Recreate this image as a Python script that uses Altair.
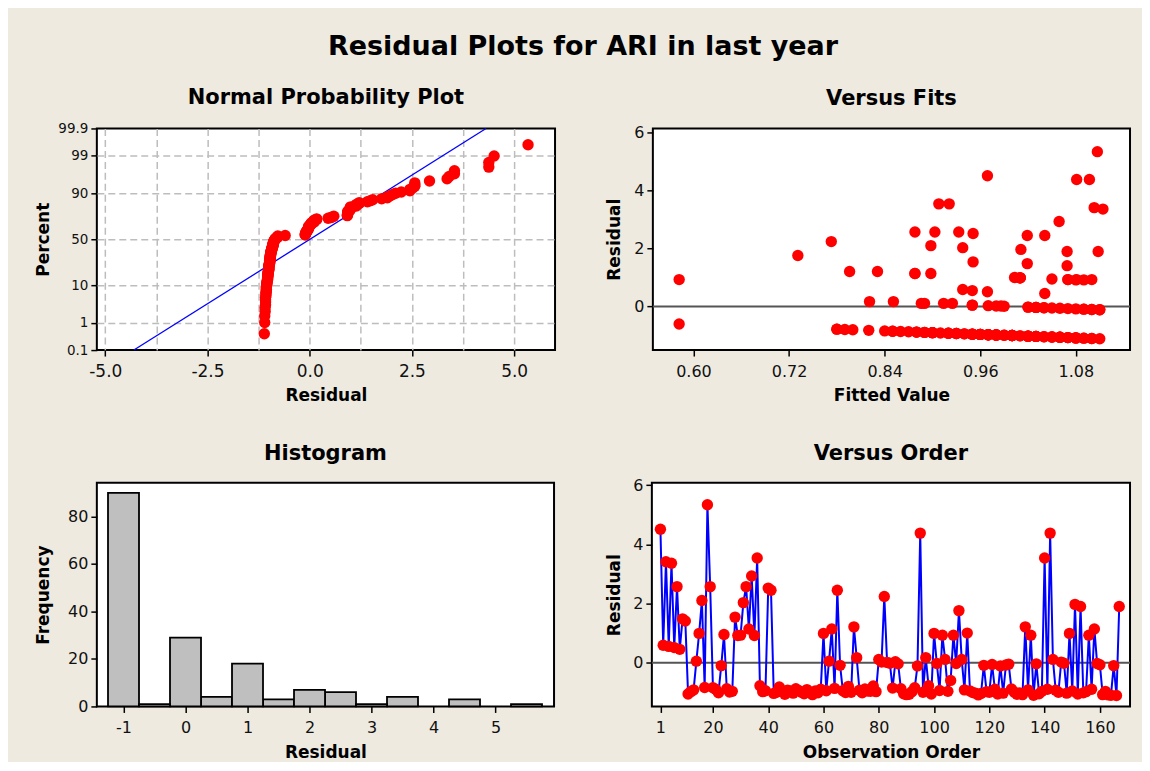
import altair as alt
import pandas as pd
import numpy as np
from statistics import NormalDist

# ---------------- data ----------------
residuals = [
    4.51, 0.59, 3.41, 0.55, 3.36, 0.51, 2.57, 0.45, 1.48, 1.41,
    -1.06, -0.98, -0.92, 0.05, 0.99, 2.10, -0.84, 5.34, 2.57, -0.85,
    -0.90, -1.02, -0.10, 0.95, -0.88, -0.99, -0.97, 1.54, 0.92, 0.93,
    2.03, 2.57, 1.14, 2.93, 0.92, 3.54, -0.78, -0.98, -0.95, 2.52,
    2.45, -1.04, -1.00, -0.82, -0.95, -1.07, -0.93, -0.96, -1.03, -0.88,
    -0.94, -1.00, -1.05, -0.91, -0.99, -1.08, -0.96, -1.02, -0.90, 0.99,
    -0.95, 0.05, 1.14, -0.87, 2.45, -0.09, -0.95, -1.01, -0.80, -1.00,
    1.21, 0.17, -0.93, -1.02, -0.89, -0.96, -0.97, -0.79, -0.98, 0.11,
    0.02, 2.24, 0.01, -0.02, -0.86, 0.03, -0.04, -0.88, -1.05, -1.08,
    -1.07, -0.98, -0.85, -0.11, 4.38, -1.00, 0.17, -0.78, -1.06, 0.99,
    -0.03, -0.94, 0.93, 0.11, -0.97, -0.60, 0.93, -0.03, 1.76, 0.11,
    -0.92, 1.00, -0.96, -1.01, -1.03, -1.09, -1.04, -0.09, -0.98, -1.00,
    -0.06, -0.90, -1.06, -0.11, -1.03, -0.08, -0.05, -0.89, -1.00, -1.07,
    -1.02, -1.08, 1.21, -0.92, 0.93, -1.10, -0.04, -1.05, -0.97, 3.54,
    -0.90, 4.38, 0.11, -0.93, -1.00, 0.02, -0.02, -1.03, 0.99, -0.96,
    1.97, -1.06, 1.90, -1.02, -0.98, 0.93, -0.90, 1.14, -0.03, -0.07,
    -1.08, -0.97, -1.09, -1.10, -0.10, -1.11, 1.90,
]
fitted = [
    0.969, 0.938, 1.103, 0.950, 1.114, 0.969, 0.878, 1.041, 1.019, 1.069,
    1.060, 0.980, 0.920, 0.950, 1.010, 0.898, 0.840, 1.107, 0.903, 0.850,
    0.900, 1.020, 1.100, 1.050, 0.880, 0.990, 0.970, 0.951, 1.080, 1.070,
    0.938, 0.933, 0.878, 1.059, 1.090, 0.908, 0.780, 0.980, 0.950, 0.951,
    1.019, 1.040, 1.000, 0.820, 0.950, 1.070, 0.930, 0.960, 1.030, 0.880,
    0.940, 1.000, 1.050, 0.910, 0.990, 1.080, 0.960, 1.020, 0.900, 1.010,
    0.950, 0.950, 0.898, 0.870, 1.041, 1.090, 0.950, 1.010, 0.800, 1.000,
    0.796, 0.821, 0.930, 1.020, 0.890, 0.960, 0.970, 0.790, 0.980, 0.886,
    0.980, 0.773, 0.990, 1.020, 0.860, 0.970, 1.040, 0.880, 1.050, 1.080,
    1.070, 0.980, 0.850, 1.110, 1.081, 1.000, 0.851, 0.780, 1.060, 1.010,
    1.030, 0.940, 1.070, 0.914, 0.970, 0.582, 0.582, 1.030, 0.731, 0.925,
    0.920, 1.003, 0.960, 1.010, 1.030, 1.090, 1.040, 1.090, 0.980, 1.000,
    1.060, 0.900, 1.060, 1.110, 1.030, 1.080, 1.050, 0.890, 1.000, 1.070,
    1.020, 1.080, 0.831, 0.920, 1.100, 1.100, 1.040, 1.050, 0.970, 0.921,
    0.900, 1.097, 0.890, 0.930, 1.000, 0.986, 1.020, 1.030, 1.010, 0.960,
    1.011, 1.060, 1.069, 1.020, 0.980, 1.081, 0.900, 0.878, 1.030, 1.070,
    1.080, 0.970, 1.090, 1.100, 1.100, 1.110, 1.108,
]
order = list(range(1, len(residuals) + 1))

pct_ticks = [0.1, 1, 10, 50, 90, 99, 99.9]
npp_x_ticks = [-5.0, -3.75, -2.5, -1.25, 0.0, 1.25, 2.5, 3.75, 5.0]
fit_x_ticks = [0.60, 0.72, 0.84, 0.96, 1.08]
resid_y_ticks = [0, 2, 4, 6]
hist_x_ticks = [-1, 0, 1, 2, 3, 4, 5]
hist_y_ticks = [0, 20, 40, 60, 80]
order_x_ticks = [1, 20, 40, 60, 80, 100, 120, 140, 160]

df = pd.DataFrame({"order": order, "residual": residuals, "fitted": fitted})
ref_df = pd.DataFrame({"ref": [0]})
line_df = pd.DataFrame({"pct": [pct_ticks[0], pct_ticks[-1]]})

mu = float(np.mean(residuals))
sd = float(np.std(residuals, ddof=1))
z_ticks = [NormalDist().inv_cdf(p / 100.0) for p in pct_ticks]

# ---------------- styling ----------------
FONT = "DejaVu Sans"
BG = "#EEEAE0"
RED = "#FF0000"
BLUE = "#0000FF"
PT = 130


def axis(**kw):
    base = dict(domain=False, ticks=True, tickSize=6, tickWidth=1.5, tickColor="black",
                labelFont=FONT, labelFontSize=16, labelColor="#111111",
                labelOverlap=False, labelFlush=False, labelPadding=3,
                titleFont=FONT, titleFontSize=17, titleFontWeight="bold",
                titleColor="black", grid=False)
    base.update(kw)
    return alt.Axis(**base)


def xaxis(**kw):
    return axis(labelPadding=7, titlePadding=9, **kw)


def ptitle(t, off):
    return alt.TitleParams(t, font=FONT, fontSize=21, fontWeight="bold",
                           color="black", offset=off, anchor="middle")


MINUS = "\u2212"
GRID = dict(grid=True, gridColor="#BDBDBD", gridDash=[7, 4], gridWidth=1.5)

# ---------------- Normal probability plot ----------------
npp_x_axis = xaxis(values=npp_x_ticks, title="Residual", labelFontSize=17,
                   labelExpr=f"abs(datum.value % 2.5) < 1e-9 ? replace(format(datum.value, '.1f'), '{MINUS}', '-') : ''",
                   tickOpacity={"condition": {"test": "abs(datum.value % 2.5) > 1e-9", "value": 0}, "value": 1},
                   **GRID)
npp_y_axis = axis(values=z_ticks, title="Percent", titlePadding=16,
                  labelFontSize=13.5, minExtent=28, maxExtent=28,
                  labelExpr="cumulativeNormal(datum.value) < 0.005 || cumulativeNormal(datum.value) > 0.995 ? format(cumulativeNormal(datum.value) * 100, '.1f') : format(cumulativeNormal(datum.value) * 100, '.0f')",
                  gridOpacity={"condition": {"test": "abs(datum.value) > 3", "value": 0}, "value": 1},
                  **GRID)
npp_x_scale = alt.Scale(domain=[-5.206, 6.0], nice=False, zero=False)
npp_y_scale = alt.Scale(domain=[z_ticks[0], z_ticks[-1]], nice=False, zero=False)

npp_line = alt.Chart(line_df).transform_calculate(
    z="quantileNormal(datum.pct / 100)",
    xline=f"{mu} + {sd} * datum.z",
).mark_line(color=BLUE, strokeWidth=1.3).encode(
    x=alt.X("xline:Q", scale=npp_x_scale, axis=npp_x_axis),
    y=alt.Y("z:Q", scale=npp_y_scale, axis=npp_y_axis),
)

npp_pts = alt.Chart(df).transform_window(
    rank="row_number()", sort=[alt.SortField("residual", order="ascending")]
).transform_joinaggregate(
    n="count()"
).transform_calculate(
    p="(datum.rank - 0.3) / (datum.n + 0.4)"
).transform_calculate(
    z="quantileNormal(datum.p)"
).mark_circle(color=RED, size=PT, opacity=1).encode(
    x=alt.X("residual:Q", scale=npp_x_scale, axis=npp_x_axis),
    y=alt.Y("z:Q", scale=npp_y_scale, axis=npp_y_axis),
)

npp = alt.layer(npp_line, npp_pts).properties(
    width=459, height=222, title=ptitle("Normal Probability Plot", 13))

# ---------------- Versus fits ----------------
fit_x_axis = xaxis(values=fit_x_ticks, format=".2f", title="Fitted Value")
fit_y_axis = axis(values=resid_y_ticks, title="Residual", titlePadding=19,
                  minExtent=10, maxExtent=10)
fit_x_scale = alt.Scale(domain=[0.549, 1.148], nice=False, zero=False)
fit_y_scale = alt.Scale(domain=[-1.5, 6.14], nice=False, zero=False)

fit_rule = alt.Chart(ref_df).mark_rule(color="#555555", strokeWidth=2).encode(
    y=alt.Y("ref:Q", scale=fit_y_scale, axis=fit_y_axis))
fit_pts = alt.Chart(df).mark_circle(color=RED, size=PT, opacity=1).encode(
    x=alt.X("fitted:Q", scale=fit_x_scale, axis=fit_x_axis),
    y=alt.Y("residual:Q", scale=fit_y_scale, axis=fit_y_axis),
)
fits = alt.layer(fit_rule, fit_pts).properties(
    width=478, height=222, title=ptitle("Versus Fits", 16))

# ---------------- Histogram ----------------
hist_x_axis = xaxis(values=hist_x_ticks, title="Residual",
                    labelExpr=f"replace(datum.label, '{MINUS}', '-')")
hist_y_axis = axis(values=hist_y_ticks, title="Frequency", titlePadding=16,
                   minExtent=28, maxExtent=28)
hist = alt.Chart(df).transform_bin(
    as_=["bin_start", "bin_end"], field="residual",
    bin=alt.Bin(extent=[-1.25, 5.75], step=0.5, nice=False),
).transform_aggregate(
    count="count()", groupby=["bin_start", "bin_end"]
).mark_bar(fill="#BFBFBF", stroke="black", strokeWidth=1.8).encode(
    x=alt.X("bin_start:Q", scale=alt.Scale(domain=[-1.43, 5.944], nice=False, zero=False),
            axis=hist_x_axis),
    x2="bin_end:Q",
    y=alt.Y("count:Q", scale=alt.Scale(domain=[0, 94.2], nice=False), axis=hist_y_axis),
    y2=alt.datum(0),
).properties(width=458, height=224, title=ptitle("Histogram", 19))

# ---------------- Versus order ----------------
ord_x_axis = xaxis(values=order_x_ticks, title="Observation Order")
ord_y_axis = axis(values=resid_y_ticks, title="Residual", titlePadding=18,
                  minExtent=10, maxExtent=10)
ord_x_scale = alt.Scale(domain=[-2.1, 170.9], nice=False, zero=False)
ord_y_scale = alt.Scale(domain=[-1.48, 6.08], nice=False, zero=False)

ord_rule = alt.Chart(ref_df).mark_rule(color="#555555", strokeWidth=2).encode(
    y=alt.Y("ref:Q", scale=ord_y_scale, axis=ord_y_axis))
ord_line = alt.Chart(df).mark_line(color=BLUE, strokeWidth=2).encode(
    x=alt.X("order:Q", scale=ord_x_scale, axis=ord_x_axis),
    y=alt.Y("residual:Q", scale=ord_y_scale, axis=ord_y_axis),
)
ord_pts = alt.Chart(df).mark_circle(color=RED, size=PT, opacity=1).encode(
    x=alt.X("order:Q", scale=ord_x_scale, axis=ord_x_axis),
    y=alt.Y("residual:Q", scale=ord_y_scale, axis=ord_y_axis),
)
vorder = alt.layer(ord_rule, ord_line, ord_pts).properties(
    width=479, height=224, title=ptitle("Versus Order", 13))

# ---------------- assemble ----------------
top = alt.hconcat(npp, fits, spacing=49)
bottom = alt.hconcat(hist, vorder, spacing=50)

chart = alt.vconcat(top, bottom, spacing=37).properties(
    title=alt.TitleParams("Residual Plots for ARI in last year", font=FONT, fontSize=27,
                          fontWeight="bold", color="black", anchor="middle", offset=26),
    padding={"left": 26, "top": 24, "right": 10, "bottom": 0},
    background=BG,
).configure_view(fill="white", stroke="black", strokeWidth=2)

chart.save("out.html", embed_options={"renderer": "svg", "actions": False})
